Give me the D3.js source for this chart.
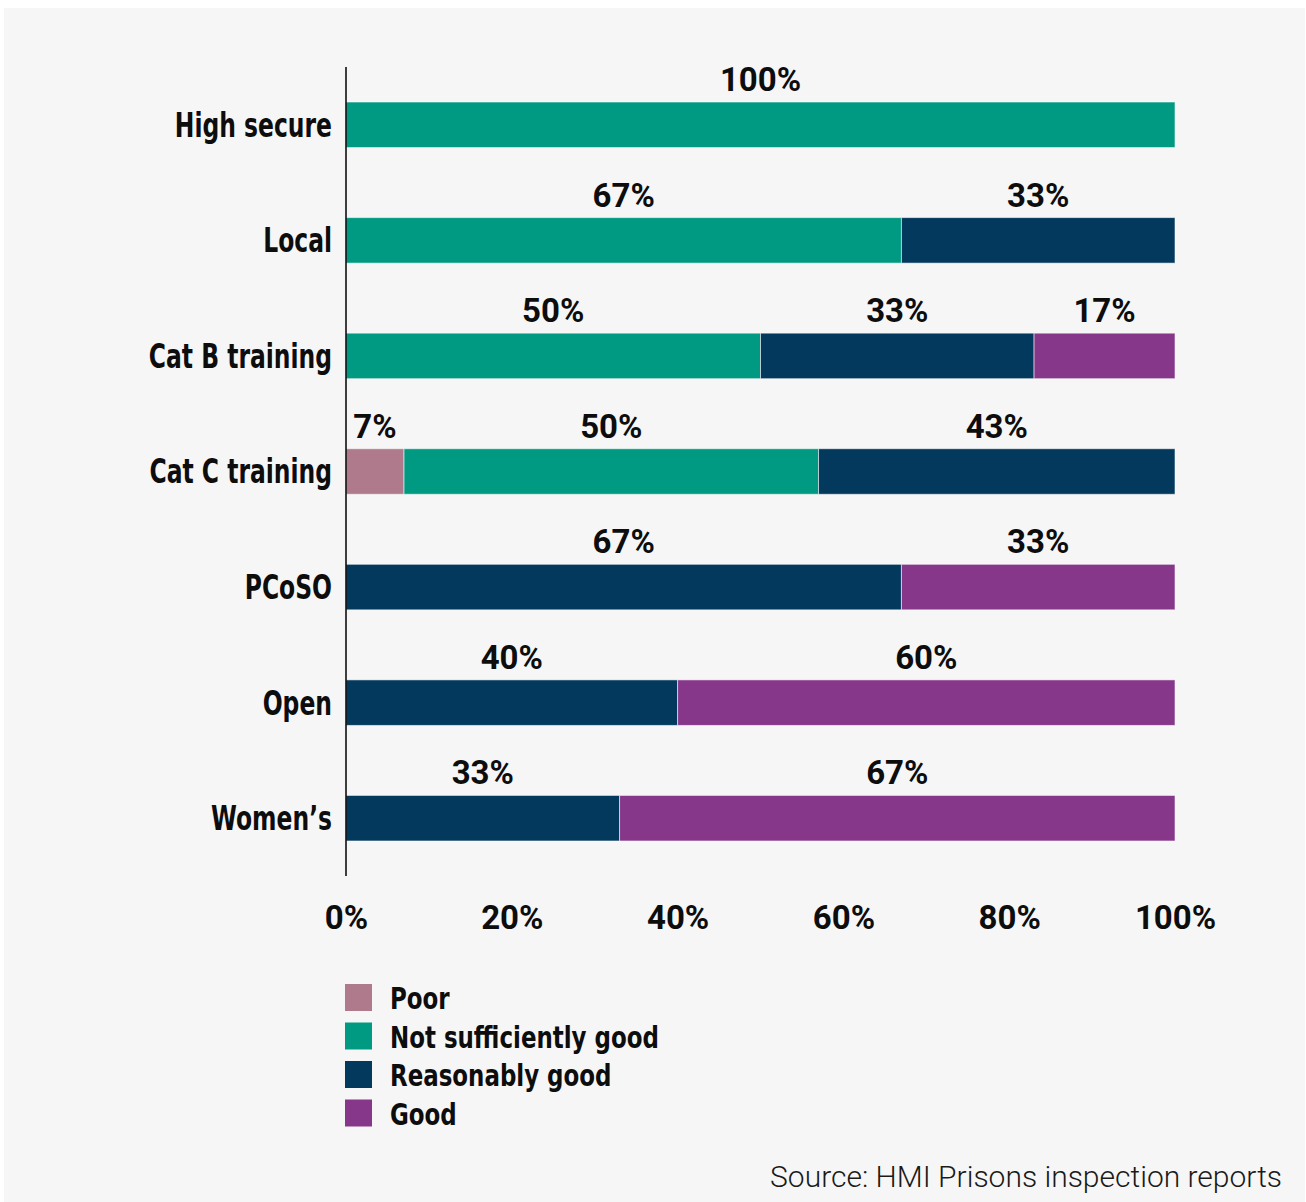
<!DOCTYPE html>
<html>
<head>
<meta charset="utf-8">
<script src="https://cdn.jsdelivr.net/npm/d3@7"></script>
<style>
  html, body { margin: 0; padding: 0; background: #ffffff; }
  svg { display: block; }
</style>
</head>
<body>
<div id="chart"></div>
<script>
// Prison types (rows, top to bottom)
const categories = ["High secure", "Local", "Cat B training", "Cat C training", "PCoSO", "Open", "Women\u2019s"];

// Share of inspections in each outcome band (%)
const poor          = [0, 0, 0, 7, 0, 0, 0];
const notSufficient = [100, 67, 50, 50, 0, 0, 0];
const reasonably    = [0, 33, 33, 43, 67, 40, 33];
const good          = [0, 0, 17, 0, 33, 60, 67];

const seriesNames = ["Poor", "Not sufficiently good", "Reasonably good", "Good"];
const seriesColors = ["#b07a8d", "#009a82", "#02395d", "#86378a"];
const tickValues = [0, 20, 40, 60, 80, 100];

const W = 1306, H = 1202;
const svg = d3.select("#chart").append("svg").attr("width", W).attr("height", H);

// background panel
svg.append("rect").attr("x", 4).attr("y", 8).attr("width", 1301).attr("height", 1194).attr("fill", "#f6f6f6");

const x = d3.scaleLinear().domain([0, 100]).range([346, 1175]);
const y = d3.scaleBand().domain(categories).range([67, 876]).paddingInner(0.606).paddingOuter(0.303);
const color = d3.scaleOrdinal().domain(seriesNames).range(seriesColors);

// build table for stacking
const rows = categories.map((c, i) => ({
  category: c,
  "Poor": poor[i],
  "Not sufficiently good": notSufficient[i],
  "Reasonably good": reasonably[i],
  "Good": good[i]
}));
const stacked = d3.stack().keys(seriesNames)(rows);

const condensed = "'DejaVu Sans Condensed', 'DejaVu Sans', sans-serif";
const numberFont = "Roboto, 'Liberation Sans', Arial, sans-serif";
const squeezeLabels = 0.79;   // narrow the bold labels horizontally
const squeezeLegend = 0.85;

// stacked bars
const layers = svg.append("g").selectAll("g").data(stacked).join("g")
  .attr("fill", d => color(d.key));

layers.selectAll("rect").data(d => d.filter(s => s[1] - s[0] > 0)).join("rect")
  .attr("x", d => x(d[0]))
  .attr("y", d => y(d.data.category))
  .attr("width", d => x(d[1]) - x(d[0]))
  .attr("height", y.bandwidth())
  .attr("stroke", "rgba(255,255,255,0.55)")
  .attr("stroke-width", 1);

// value labels above each segment
layers.selectAll("text").data(d => d.filter(s => s[1] - s[0] > 0)).join("text")
  .attr("x", d => x((d[0] + d[1]) / 2))
  .attr("y", d => y(d.data.category) - 11)
  .attr("text-anchor", "middle")
  .attr("fill", "#0d0d0d")
  .style("font-family", numberFont)
  .style("font-weight", 700)
  .style("font-size", "33px")
  .text(d => (d[1] - d[0]) + "%");

// category axis
const yAxis = svg.append("g").attr("transform", `translate(${x(0)},0)`)
  .call(d3.axisLeft(y).tickSize(0).tickPadding(14));
yAxis.select(".domain").attr("stroke", "#000").attr("stroke-width", 1.5).attr("d", "M0,67V876");
yAxis.selectAll("text")
  .attr("fill", "#0d0d0d")
  .attr("x", -14 / squeezeLabels)
  .attr("transform", `scale(${squeezeLabels},1)`)
  .style("font-family", condensed)
  .style("font-weight", 700)
  .style("font-size", "33px")
  .attr("dy", "0.36em");

// percentage axis (labels only)
const xAxis = svg.append("g").attr("transform", "translate(0,896)")
  .call(d3.axisBottom(x).tickValues(tickValues).tickSize(0).tickPadding(0).tickFormat(d => d + "%"));
xAxis.select(".domain").remove();
xAxis.selectAll("text")
  .attr("fill", "#0d0d0d")
  .attr("dy", "1em")
  .style("font-family", numberFont)
  .style("font-weight", 700)
  .style("font-size", "33px");

// legend
const legend = svg.append("g").attr("transform", "translate(345,984)");
const items = legend.selectAll("g").data(seriesNames).join("g")
  .attr("transform", (d, i) => `translate(0,${i * 38.5})`);
items.append("rect").attr("width", 27).attr("height", 27).attr("fill", d => color(d));
items.append("text")
  .attr("x", 45 / squeezeLegend).attr("y", 25)
  .attr("transform", `scale(${squeezeLegend},1)`)
  .attr("fill", "#0d0d0d")
  .style("font-family", condensed)
  .style("font-weight", 700)
  .style("font-size", "30px")
  .text(d => d);

// source note
svg.append("text")
  .attr("x", 1282).attr("y", 1187)
  .attr("text-anchor", "end")
  .attr("fill", "#1a1a1a")
  .style("font-family", "Roboto, sans-serif")
  .style("font-weight", 300)
  .style("font-size", "30px")
  .text("Source: HMI Prisons inspection reports");
</script>
</body>
</html>
